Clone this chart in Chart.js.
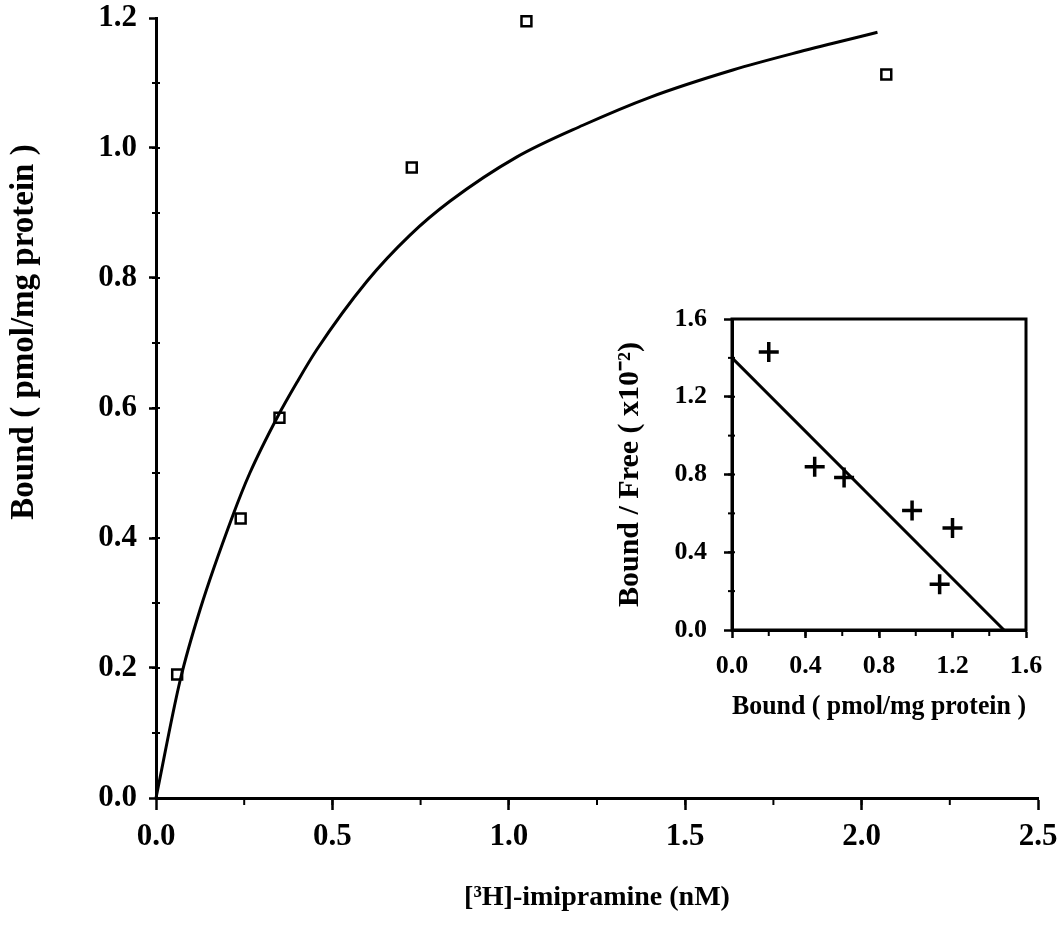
<!DOCTYPE html>
<html>
<head>
<meta charset="utf-8">
<script src="https://cdn.jsdelivr.net/npm/chart.js@4.4.1/dist/chart.umd.min.js"></script>
<style>
  html, body { margin: 0; padding: 0; background: #fff; }
  .box { position: absolute; }
</style>
</head>
<body>
<div class="box" style="left:0;top:0;width:1059px;height:933px"><canvas id="mainChart"></canvas></div>
<div class="box" style="left:590px;top:300px;width:460px;height:430px"><canvas id="insetChart"></canvas></div>
<script>
// saturation data (main plot)
const boundX = [0.06, 0.24, 0.35, 0.725, 1.05, 2.07];
const boundY = [0.19, 0.43, 0.585, 0.97, 1.195, 1.113];
// fitted curve
const fitX = [0, 0.068, 0.125, 0.218, 0.266, 0.345, 0.40, 0.456, 0.598, 0.72, 0.833, 1.022, 1.21, 1.40, 1.635, 1.824, 2.045];
const fitY = [0, 0.18, 0.29, 0.435, 0.50, 0.587, 0.64, 0.69, 0.795, 0.866, 0.918, 0.986, 1.035, 1.078, 1.12, 1.148, 1.178];
// scatchard inset
const scatX = [0.20, 0.45, 0.61, 0.98, 1.20, 1.13];
const scatY = [1.43, 0.84, 0.785, 0.615, 0.525, 0.235];
const lineX = [0, 1.48];
const lineY = [1.40, 0];

const mainXTicks = [0.0, 0.5, 1.0, 1.5, 2.0, 2.5];
const mainYTicks = [0.0, 0.2, 0.4, 0.6, 0.8, 1.0, 1.2];
const insetTicks = [0.0, 0.4, 0.8, 1.2, 1.6];

const FONT = "'Liberation Serif', 'Times New Roman', serif";
const pts = (xs, ys) => xs.map((x, i) => ({x: x, y: ys[i]}));

// axis boxes are fixed, don't let labels push the plot area around
const fixBox = size => s => {
  if (s.isHorizontal()) s.height = size; else s.width = size;
  s.paddingTop = 0; s.paddingBottom = 0; s.paddingLeft = 0; s.paddingRight = 0;
};

// small ticks between the labelled ones
const minorTicks = {
  id: 'minorTicks',
  afterDraw(chart, args, opts) {
    const ctx = chart.ctx, area = chart.chartArea;
    ctx.save();
    ctx.strokeStyle = '#000';
    ctx.lineWidth = 2;
    (opts.marks || []).forEach(m => {
      const s = chart.scales[m.axis];
      for (let v = s.min + m.step; v < s.max - 1e-6; v += m.step) {
        const p = s.getPixelForValue(v);
        ctx.beginPath();
        if (s.isHorizontal()) {
          ctx.moveTo(p, area.bottom - m.inside);
          ctx.lineTo(p, area.bottom + m.outside);
        } else {
          ctx.moveTo(area.left - m.outside, p);
          ctx.lineTo(area.left + m.inside, p);
        }
        ctx.stroke();
      }
    });
    ctx.restore();
  }
};

const boxBorder = {
  id: 'boxBorder',
  afterDatasetsDraw(chart, args, opts) {
    if (!opts.show) return;
    const ctx = chart.ctx, a = chart.chartArea;
    ctx.save();
    ctx.strokeStyle = '#000';
    ctx.lineWidth = 3;
    ctx.strokeRect(a.left, a.top, a.right - a.left, a.bottom - a.top);
    ctx.restore();
  }
};

// y title of main plot sits above centre in the original
const sideTitle = {
  id: 'sideTitle',
  afterDraw(chart, args, opts) {
    if (!opts.text) return;
    const ctx = chart.ctx;
    ctx.save();
    ctx.translate(opts.x, opts.y);
    ctx.rotate(-Math.PI / 2);
    ctx.font = 'bold ' + opts.size + 'px ' + FONT;
    ctx.fillStyle = '#000';
    ctx.textAlign = 'center';
    ctx.textBaseline = 'middle';
    ctx.fillText(opts.text, 0, 0);
    ctx.restore();
  }
};

Chart.register(minorTicks, boxBorder, sideTitle);

new Chart(document.getElementById('mainChart'), {
  type: 'scatter',
  data: {
    datasets: [{
      label: 'fit',
      data: pts(fitX, fitY),
      showLine: true,
      cubicInterpolationMode: 'monotone',
      borderColor: '#000',
      borderWidth: 3,
      pointRadius: 0,
      clip: false
    }, {
      label: 'bound',
      data: pts(boundX, boundY),
      pointStyle: 'rect',
      pointRadius: 7,
      borderColor: '#000',
      backgroundColor: '#fff',
      borderWidth: 2.5,
      clip: false
    }]
  },
  options: {
    responsive: true,
    maintainAspectRatio: false,
    animation: false,
    layout: {padding: {top: 18, right: 21, left: 0, bottom: 0}},
    plugins: {
      legend: {display: false},
      tooltip: {enabled: false},
      minorTicks: {marks: [
        {axis: 'x', step: 0.25, inside: 0, outside: 7},
        {axis: 'y', step: 0.1, inside: 4, outside: 4}
      ]},
      sideTitle: {text: 'Bound ( pmol/mg protein )', x: 24, y: 332, size: 33}
    },
    scales: {
      x: {
        type: 'linear', min: 0, max: 2.5,
        afterFit: fixBox(135),
        afterBuildTicks: s => { s.ticks = mainXTicks.map(v => ({value: v})); },
        border: {color: '#000', width: 3},
        grid: {drawOnChartArea: false, tickLength: 12, tickWidth: 2.5, tickColor: '#000'},
        ticks: {color: '#000', padding: 8, font: {family: FONT, size: 31, weight: 'bold'},
                callback: v => v.toFixed(1)},
        title: {display: true, text: '[³H]-imipramine (nM)', color: '#000',
                padding: {top: 0, bottom: 18}, font: {family: FONT, size: 28, weight: 'bold'}}
      },
      y: {
        type: 'linear', min: 0, max: 1.2,
        afterFit: fixBox(156),
        afterBuildTicks: s => { s.ticks = mainYTicks.map(v => ({value: v})); },
        border: {color: '#000', width: 3},
        grid: {drawOnChartArea: false, tickLength: 7, tickWidth: 2.5, tickColor: '#000'},
        ticks: {color: '#000', padding: 12, font: {family: FONT, size: 31, weight: 'bold'},
                callback: v => v.toFixed(1)}
      }
    }
  }
});

new Chart(document.getElementById('insetChart'), {
  type: 'scatter',
  data: {
    datasets: [{
      label: 'line',
      data: pts(lineX, lineY),
      showLine: true,
      borderColor: '#000',
      borderWidth: 3,
      pointRadius: 0
    }, {
      label: 'scatchard',
      data: pts(scatX, scatY),
      pointStyle: 'cross',
      pointRadius: 10,
      borderColor: '#000',
      borderWidth: 3.5
    }]
  },
  options: {
    responsive: true,
    maintainAspectRatio: false,
    animation: false,
    layout: {padding: {top: 19, right: 24, left: 0, bottom: 0}},
    plugins: {
      legend: {display: false},
      tooltip: {enabled: false},
      boxBorder: {show: true},
      minorTicks: {marks: [
        {axis: 'x', step: 0.2, inside: 0, outside: 6},
        {axis: 'y', step: 0.2, inside: 3, outside: 4}
      ]}
    },
    scales: {
      x: {
        type: 'linear', min: 0, max: 1.6,
        afterFit: fixBox(100),
        afterBuildTicks: s => { s.ticks = insetTicks.map(v => ({value: v})); },
        border: {color: '#000', width: 3},
        grid: {drawOnChartArea: false, tickLength: 8, tickWidth: 2.5, tickColor: '#000'},
        ticks: {color: '#000', padding: 13, font: {family: FONT, size: 26, weight: 'bold'},
                callback: v => v.toFixed(1)},
        title: {display: true, text: 'Bound ( pmol/mg protein )', color: '#000',
                padding: {top: 0, bottom: 7}, font: {family: FONT, size: 27, weight: 'bold'}}
      },
      y: {
        type: 'linear', min: 0, max: 1.6,
        afterFit: fixBox(142),
        afterBuildTicks: s => { s.ticks = insetTicks.map(v => ({value: v})); },
        border: {color: '#000', width: 3},
        grid: {drawOnChartArea: false, tickLength: 8, tickWidth: 2.5, tickColor: '#000'},
        ticks: {color: '#000', padding: 17, font: {family: FONT, size: 26, weight: 'bold'},
                callback: v => v.toFixed(1)},
        title: {display: true, text: 'Bound / Free ( x10⁻²)', color: '#000',
                padding: {top: 22, bottom: 0}, font: {family: FONT, size: 30, weight: 'bold'}}
      }
    }
  }
});
</script>
</body>
</html>
